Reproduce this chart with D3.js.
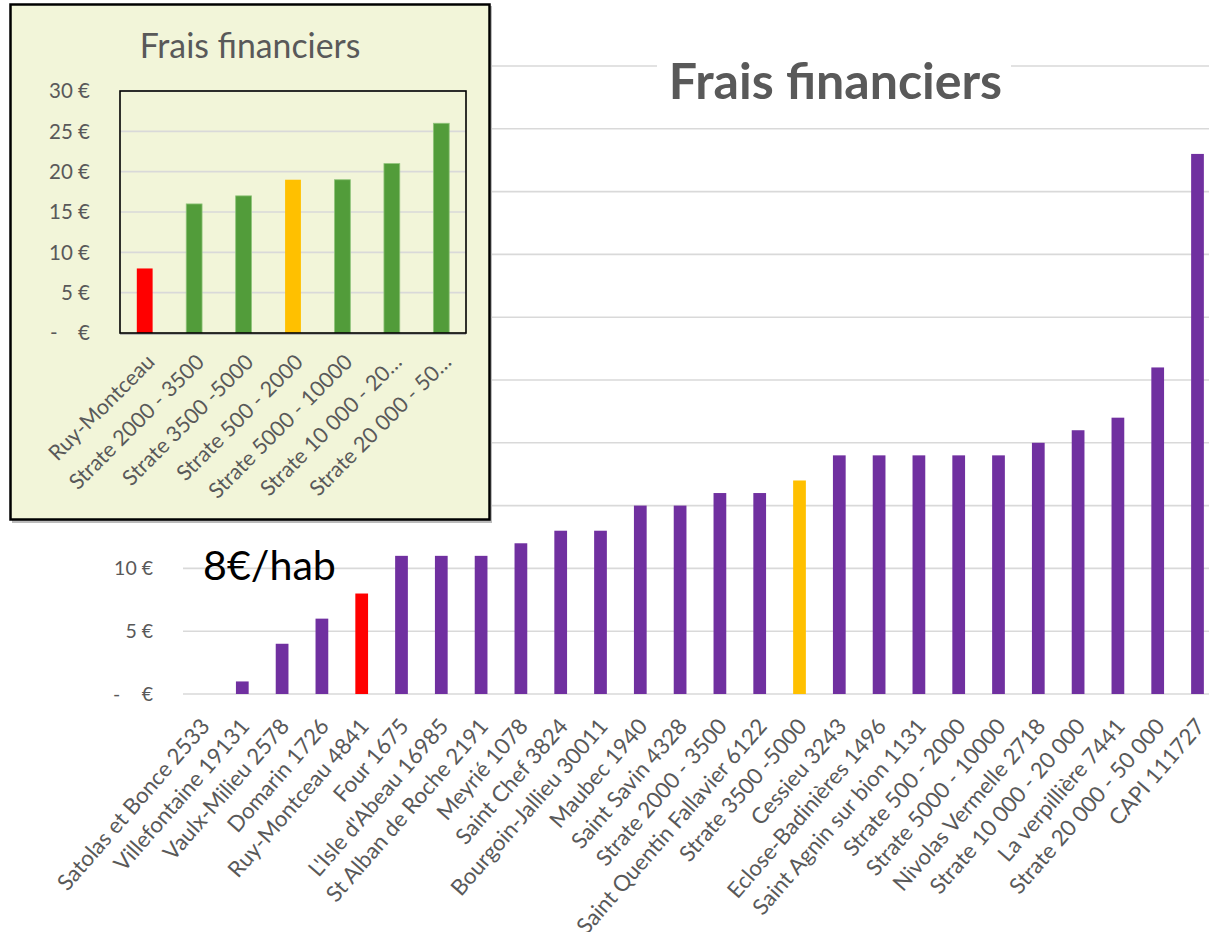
<!DOCTYPE html>
<html>
<head>
<meta charset="utf-8">
<script src="https://cdn.jsdelivr.net/npm/d3@7"></script>
<style>
  body { margin: 0; background: #fff; overflow: hidden; }
  svg { display: block; }
  text { font-family: "Gill Sans", "Gill Sans MT", Lato, "DejaVu Sans", sans-serif; }
</style>
</head>
<body>
<svg id="chart" width="1209" height="932"></svg>
<script>
// donnees du graphique principal (frais financiers par habitant)
const communes = [
  "Satolas et Bonce 2533", "Villefontaine 19131", "Vaulx-Milieu 2578", "Domarin 1726",
  "Ruy-Montceau 4841", "Four 1675", "L'Isle d'Abeau 16985", "St Alban de Roche 2191",
  "Meyrié 1078", "Saint Chef 3824", "Bourgoin-Jallieu 30011", "Maubec 1940",
  "Saint Savin 4328", "Strate 2000 - 3500", "Saint Quentin Fallavier 6122", "Strate 3500 -5000",
  "Cessieu 3243", "Eclose-Badinières 1496", "Saint Agnin sur bion 1131", "Strate 500 - 2000",
  "Strate 5000 - 10000", "Nivolas Vermelle 2718", "Strate 10 000 - 20 000", "La verpillière 7441",
  "Strate 20 000 - 50 000", "CAPI 111727"
]
const fraisCommunes = [0, 1, 4, 6, 8, 11, 11, 11, 12, 13, 13, 15, 15, 16, 16, 17, 19, 19, 19, 19, 19, 20, 21, 22, 26, 43]
const yTicksMain = [0, 5, 10, 15, 20, 25, 30, 35, 40, 45, 50]

// donnees du petit graphique (encart)
const strates = [
  "Ruy-Montceau", "Strate 2000 - 3500", "Strate 3500 -5000", "Strate 500 - 2000",
  "Strate 5000 - 10000", "Strate 10 000 - 20 000", "Strate 20 000 - 50 000"
]
const fraisStrates = [8, 16, 17, 19, 19, 21, 26]
const yTicksInset = [0, 5, 10, 15, 20, 25, 30]

const titre = "Frais financiers"
const annotation = "8€/hab"
const communeRouge = "Ruy-Montceau 4841"
const communeJaune = "Strate 3500 -5000"
const strateRouge = "Ruy-Montceau"
const strateJaune = "Strate 500 - 2000"

const grey = "#595959"
const gridColor = "#d9d9d9"
const svg = d3.select("#chart")

//---------------- graphique principal ----------------
const x = d3.scaleBand()
  .domain(communes)
  .range([182.6, 182.6 + 39.8 * communes.length])
  .paddingInner(0.68)
  .paddingOuter(0.34)
const y = d3.scaleLinear().domain([0, 50]).range([694, 66])

const main = svg.append("g")

main.selectAll(".grid").data(yTicksMain).enter().append("line")
  .attr("x1", 183).attr("x2", 1209)
  .attr("y1", d => y(d)).attr("y2", d => y(d))
  .attr("stroke", gridColor).attr("stroke-width", 1.6)

// labels axe y (ceux sous l'encart ne se voient pas)
const insetBottom = 523
main.selectAll(".ylab").data(yTicksMain.filter(d => y(d) > insetBottom)).enter().append("text")
  .attr("x", 153).attr("y", d => y(d)).attr("dy", "0.35em")
  .attr("text-anchor", "end").attr("fill", grey).attr("font-size", 19.5)
  .text(d => d === 0 ? "€" : d + " €")
main.append("text").attr("x", 113).attr("y", y(0)).attr("dy", "0.35em")
  .attr("fill", grey).attr("font-size", 19.5).text("-")

main.selectAll(".bar").data(communes).enter().append("rect")
  .attr("x", d => x(d))
  .attr("width", x.bandwidth())
  .attr("y", (d, i) => y(fraisCommunes[i]))
  .attr("height", (d, i) => y(0) - y(fraisCommunes[i]))
  .attr("fill", d => d === communeRouge ? "#ff0000" : d === communeJaune ? "#ffc000" : "#7030a0")

// labels axe x (tournes)
main.selectAll(".xlab").data(communes).enter().append("text")
  .attr("transform", d => `translate(${x(d) + x.bandwidth() / 2 + 2.5}, 722) rotate(-49)`)
  .attr("text-anchor", "end").attr("dy", "0.35em")
  .attr("fill", grey).attr("font-size", 22.2)
  .text(d => d)

// titre avec fond blanc
main.append("rect").attr("x", 657).attr("y", 52).attr("width", 354).attr("height", 60).attr("fill", "#fff")
const mainTitle = main.append("text")
  .attr("x", 835.5).attr("y", 99).attr("text-anchor", "middle")
  .attr("font-weight", "bold").attr("fill", grey).attr("font-size", 48)
  .text(titre)
fitWidth(mainTitle, 333)

const annot = main.append("text").attr("x", 203).attr("y", 580)
  .attr("fill", "#000").attr("font-size", 44).text(annotation)
fitWidth(annot, 133)

//---------------- encart ----------------
const inset = svg.append("g")
inset.append("rect").attr("x", 12).attr("y", 6).attr("width", 480).attr("height", 517)
  .attr("fill", "#bbb")
inset.append("rect").attr("x", 10.5).attr("y", 4.5).attr("width", 479).attr("height", 515)
  .attr("fill", "#f2f5d9").attr("stroke", "#000").attr("stroke-width", 2.5)

const xi = d3.scaleBand()
  .domain(strates)
  .range([120, 466])
  .paddingInner(0.68)
  .paddingOuter(0.34)
const yi = d3.scaleLinear().domain([0, 30]).range([333, 91])

inset.selectAll(".grid").data(yTicksInset.slice(1)).enter().append("line")
  .attr("x1", 120).attr("x2", 466)
  .attr("y1", d => yi(d)).attr("y2", d => yi(d))
  .attr("stroke", gridColor).attr("stroke-width", 1.6)

inset.selectAll(".bar").data(strates).enter().append("rect")
  .attr("x", d => xi(d))
  .attr("width", xi.bandwidth())
  .attr("y", (d, i) => yi(fraisStrates[i]))
  .attr("height", (d, i) => yi(0) - yi(fraisStrates[i]))
  .attr("fill", d => d === strateRouge ? "#ff0000" : d === strateJaune ? "#ffc000" : "#529c3a")
  .attr("stroke", d => d === strateRouge || d === strateJaune ? "none" : "#8fc47a")
  .attr("stroke-width", 0.8)

inset.append("line").attr("x1", 120).attr("x2", 466).attr("y1", 334).attr("y2", 334)
  .attr("stroke", "#a6a6a6").attr("stroke-width", 1.5)
inset.append("rect").attr("x", 120).attr("y", 91).attr("width", 346).attr("height", 242)
  .attr("fill", "none").attr("stroke", "#000").attr("stroke-width", 1.6)

inset.selectAll(".ylab").data(yTicksInset).enter().append("text")
  .attr("x", 90).attr("y", d => yi(d)).attr("dy", "0.35em")
  .attr("text-anchor", "end").attr("fill", grey).attr("font-size", 20.5)
  .text(d => d === 0 ? "€" : d + " €")
inset.append("text").attr("x", 50).attr("y", yi(0)).attr("dy", "0.35em")
  .attr("fill", grey).attr("font-size", 20.5).text("-")

inset.selectAll(".xlab").data(strates).enter().append("text")
  .attr("transform", d => `translate(${xi(d) + xi.bandwidth() / 2 + 6}, 358) rotate(-45)`)
  .attr("text-anchor", "end").attr("dy", "0.35em")
  .attr("fill", grey).attr("font-size", 21.5)
  .text(d => d.length > 19 ? d.slice(0, 18) + "…" : d)

const insetTitle = inset.append("text").attr("x", 250).attr("y", 58).attr("text-anchor", "middle")
  .attr("fill", grey).attr("font-size", 34).text(titre)
fitWidth(insetTitle, 221)

// ajuste la taille de police pour retrouver la largeur du texte d'origine
function fitWidth(sel, target) {
  const fs = +sel.attr("font-size")
  const w = sel.node().getComputedTextLength()
  sel.attr("font-size", (fs * target / w).toFixed(1))
}
</script>
</body>
</html>
